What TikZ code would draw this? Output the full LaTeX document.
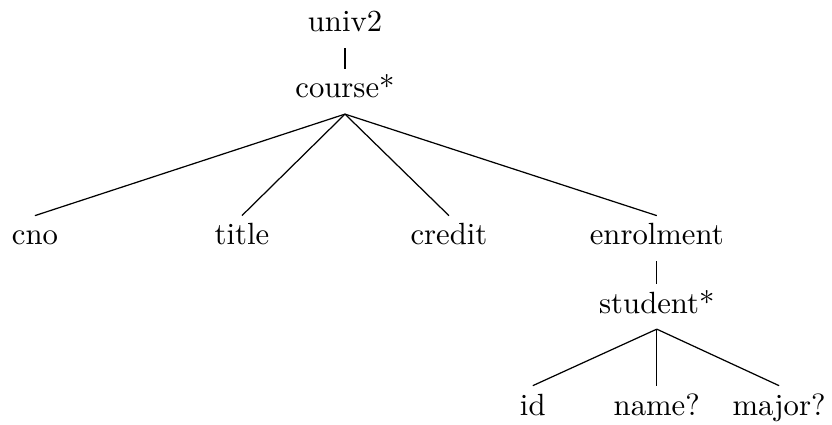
\documentclass[tikz,border=0pt]{standalone}
\usetikzlibrary{positioning}

\begin{document}
\begin{tikzpicture}[
    lbl/.style={anchor=base, inner sep=3.33pt, text height=1.4ex, text depth=.4ex},
    branch/.style={draw=black, line width=0.4pt}]
        \useasboundingbox (0,0) rectangle (9.526,-4.866);

        \node[lbl] (univ) at (3.95,-0.366) {univ2};
        \node[lbl] (course) at (3.95,-1.122) {course*};
        % \draw (univ) -- (course);

        \node[lbl] (cno) at (0.40,-2.805) {cno};
        \node[lbl] (title) at (2.77,-2.805) {title};
        \node[lbl] (credit) at (5.14,-2.805) {credit};
        \node[lbl] (enrol) at (7.52,-2.805) {enrolment};

        \node[lbl] (student) at (7.52,-3.584) {student*};

        \node[lbl] (id) at (6.10,-4.752) {id};
        \node[lbl] (name) at (7.52,-4.752) {name?};
        \node[lbl] (major) at (8.92,-4.752) {major?};

        \draw[branch] (univ.south) -- (course.north);
        \draw[branch] (course.south) -- (cno.north);
        \draw[branch] (course.south) -- (title.north);
        \draw[branch] (course.south) -- (credit.north);
        \draw[branch] (course.south) -- (enrol.north);
        \draw[branch] (enrol.south) -- (student.north);
        \draw[branch] (student.south) -- (id.north);
        \draw[branch] (student.south) -- (name.north);
        \draw[branch] (student.south) -- (major.north);
    \end{tikzpicture}
\end{document}
